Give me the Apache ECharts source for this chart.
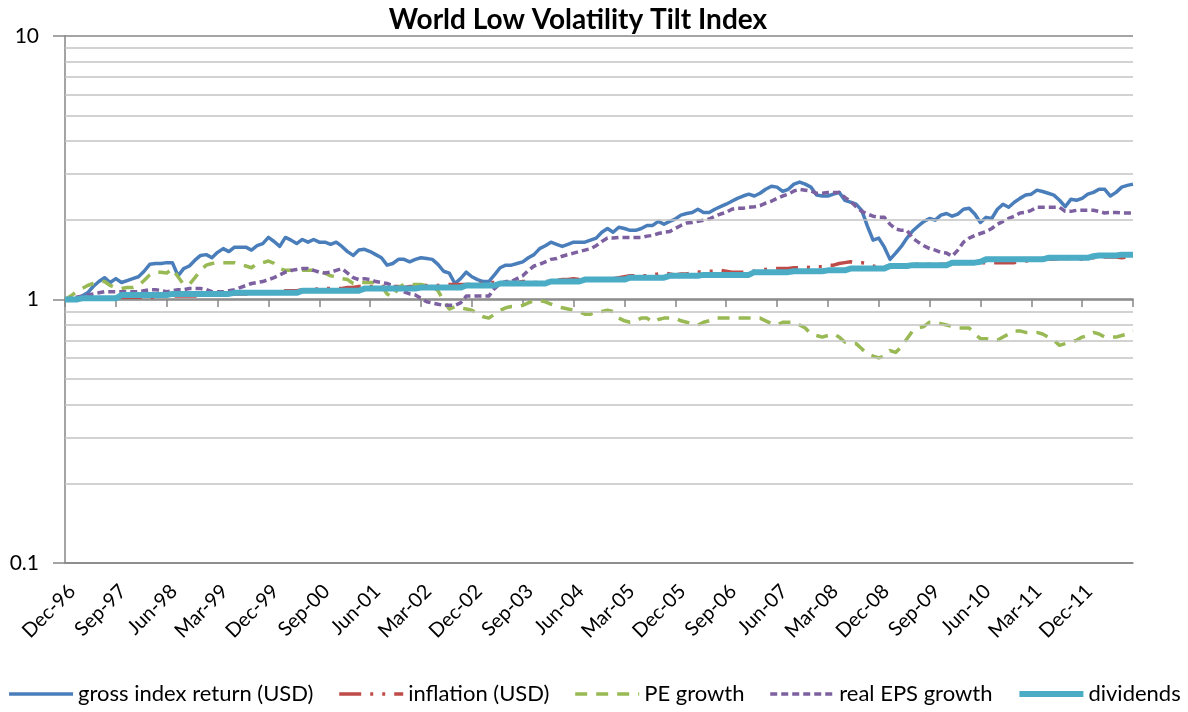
<!DOCTYPE html>
<html>
<head>
<meta charset="utf-8">
<script src="https://cdn.jsdelivr.net/npm/echarts/dist/echarts.min.js"></script>
<style>
html,body{margin:0;padding:0;background:#fff;}
#chart{width:1188px;height:712px;}
</style>
</head>
<body>
<div id="chart"></div>
<script>
const categories = [
'Dec-96',
'Jan-97','Feb-97','Mar-97','Apr-97','May-97','Jun-97','Jul-97','Aug-97','Sep-97','Oct-97','Nov-97','Dec-97',
'Jan-98','Feb-98','Mar-98','Apr-98','May-98','Jun-98','Jul-98','Aug-98','Sep-98','Oct-98','Nov-98','Dec-98',
'Jan-99','Feb-99','Mar-99','Apr-99','May-99','Jun-99','Jul-99','Aug-99','Sep-99','Oct-99','Nov-99','Dec-99',
'Jan-00','Feb-00','Mar-00','Apr-00','May-00','Jun-00','Jul-00','Aug-00','Sep-00','Oct-00','Nov-00','Dec-00',
'Jan-01','Feb-01','Mar-01','Apr-01','May-01','Jun-01','Jul-01','Aug-01','Sep-01','Oct-01','Nov-01','Dec-01',
'Jan-02','Feb-02','Mar-02','Apr-02','May-02','Jun-02','Jul-02','Aug-02','Sep-02','Oct-02','Nov-02','Dec-02',
'Jan-03','Feb-03','Mar-03','Apr-03','May-03','Jun-03','Jul-03','Aug-03','Sep-03','Oct-03','Nov-03','Dec-03',
'Jan-04','Feb-04','Mar-04','Apr-04','May-04','Jun-04','Jul-04','Aug-04','Sep-04','Oct-04','Nov-04','Dec-04',
'Jan-05','Feb-05','Mar-05','Apr-05','May-05','Jun-05','Jul-05','Aug-05','Sep-05','Oct-05','Nov-05','Dec-05',
'Jan-06','Feb-06','Mar-06','Apr-06','May-06','Jun-06','Jul-06','Aug-06','Sep-06','Oct-06','Nov-06','Dec-06',
'Jan-07','Feb-07','Mar-07','Apr-07','May-07','Jun-07','Jul-07','Aug-07','Sep-07','Oct-07','Nov-07','Dec-07',
'Jan-08','Feb-08','Mar-08','Apr-08','May-08','Jun-08','Jul-08','Aug-08','Sep-08','Oct-08','Nov-08','Dec-08',
'Jan-09','Feb-09','Mar-09','Apr-09','May-09','Jun-09','Jul-09','Aug-09','Sep-09','Oct-09','Nov-09','Dec-09',
'Jan-10','Feb-10','Mar-10','Apr-10','May-10','Jun-10','Jul-10','Aug-10','Sep-10','Oct-10','Nov-10','Dec-10',
'Jan-11','Feb-11','Mar-11','Apr-11','May-11','Jun-11','Jul-11','Aug-11','Sep-11','Oct-11','Nov-11','Dec-11',
'Jan-12','Feb-12','Mar-12','Apr-12','May-12','Jun-12','Jul-12','Aug-12','Sep-12'
];

const seriesNames = ['gross index return (USD)','inflation (USD)','PE growth','real EPS growth','dividends'];

const grossReturn = [
1.00,1.00,1.01,1.03,1.06,1.12,1.17,1.21,1.16,1.20,
1.16,1.18,1.20,1.22,1.28,1.36,1.37,1.37,1.38,1.38,
1.23,1.31,1.34,1.41,1.47,1.48,1.44,1.51,1.56,1.52,
1.58,1.58,1.58,1.54,1.60,1.63,1.72,1.66,1.59,1.72,
1.68,1.63,1.69,1.65,1.69,1.65,1.65,1.62,1.65,1.59,
1.52,1.47,1.54,1.55,1.52,1.48,1.44,1.35,1.37,1.42,
1.42,1.39,1.42,1.44,1.43,1.42,1.36,1.28,1.26,1.15,
1.20,1.27,1.22,1.19,1.17,1.17,1.24,1.32,1.35,1.35,
1.37,1.39,1.44,1.48,1.56,1.60,1.65,1.62,1.59,1.62,
1.65,1.65,1.65,1.68,1.71,1.80,1.86,1.80,1.88,1.86,
1.83,1.83,1.86,1.91,1.91,1.98,1.93,1.98,2.02,2.09,
2.12,2.14,2.20,2.14,2.14,2.20,2.25,2.30,2.36,2.42,
2.47,2.51,2.47,2.53,2.62,2.69,2.67,2.57,2.62,2.74,
2.79,2.74,2.67,2.49,2.47,2.47,2.51,2.55,2.38,2.34,
2.30,2.18,1.90,1.68,1.71,1.58,1.42,1.50,1.59,1.71,
1.82,1.90,1.98,2.03,2.00,2.09,2.12,2.07,2.11,2.20,
2.22,2.11,1.96,2.05,2.03,2.20,2.30,2.24,2.34,2.42,
2.49,2.51,2.60,2.57,2.53,2.49,2.38,2.25,2.40,2.38,
2.42,2.51,2.55,2.62,2.62,2.47,2.55,2.67,2.71,2.74
];

const inflation = [
1.00,
1.00,1.01,1.01,1.01,1.01,1.01,1.01,1.01,1.02,1.02,1.02,1.02,
1.02,1.02,1.02,1.02,1.03,1.03,1.03,1.03,1.03,1.03,1.03,1.03,
1.04,1.04,1.04,1.05,1.05,1.05,1.05,1.05,1.06,1.06,1.06,1.06,
1.06,1.07,1.08,1.08,1.08,1.09,1.09,1.09,1.10,1.10,1.10,1.10,
1.10,1.11,1.11,1.12,1.12,1.12,1.12,1.12,1.12,1.12,1.12,1.11,
1.12,1.12,1.13,1.13,1.13,1.13,1.14,1.14,1.14,1.14,1.14,1.14,
1.15,1.15,1.16,1.16,1.16,1.16,1.16,1.16,1.17,1.17,1.16,1.16,
1.17,1.17,1.18,1.19,1.19,1.20,1.19,1.19,1.20,1.20,1.20,1.20,
1.20,1.21,1.22,1.23,1.23,1.23,1.23,1.24,1.25,1.26,1.25,1.24,
1.25,1.25,1.26,1.27,1.28,1.28,1.28,1.29,1.28,1.27,1.27,1.27,
1.28,1.28,1.30,1.30,1.31,1.31,1.31,1.31,1.32,1.32,1.33,1.32,
1.33,1.33,1.35,1.35,1.37,1.38,1.39,1.38,1.38,1.37,1.34,1.33,
1.33,1.34,1.34,1.34,1.35,1.36,1.36,1.36,1.36,1.36,1.36,1.36,
1.37,1.37,1.37,1.38,1.38,1.38,1.38,1.38,1.38,1.38,1.38,1.38,
1.39,1.40,1.41,1.42,1.43,1.42,1.42,1.43,1.43,1.43,1.43,1.42,
1.43,1.44,1.45,1.45,1.45,1.45,1.44,1.45,1.46
];

const peGrowth = [
1.00,1.03,1.07,1.10,1.13,1.15,1.17,1.17,1.13,1.11,
1.10,1.11,1.11,1.13,1.18,1.24,1.27,1.27,1.26,1.31,
1.22,1.14,1.14,1.21,1.29,1.35,1.37,1.38,1.38,1.38,
1.38,1.36,1.34,1.32,1.37,1.38,1.40,1.37,1.31,1.29,
1.29,1.28,1.29,1.29,1.29,1.28,1.26,1.23,1.22,1.20,
1.19,1.15,1.16,1.16,1.16,1.16,1.13,1.05,1.02,1.11,
1.14,1.14,1.14,1.14,1.13,1.12,1.08,0.99,0.92,0.94,
0.93,0.92,0.91,0.88,0.86,0.85,0.88,0.91,0.93,0.94,
0.94,0.95,0.97,0.99,0.99,0.98,0.96,0.94,0.93,0.92,
0.91,0.90,0.88,0.88,0.90,0.90,0.91,0.90,0.85,0.83,
0.82,0.83,0.85,0.85,0.82,0.84,0.85,0.85,0.85,0.83,
0.82,0.81,0.80,0.82,0.83,0.85,0.85,0.85,0.85,0.85,
0.85,0.85,0.85,0.85,0.83,0.81,0.80,0.82,0.82,0.82,
0.80,0.78,0.74,0.73,0.72,0.73,0.74,0.72,0.69,0.68,
0.68,0.65,0.62,0.61,0.60,0.61,0.64,0.63,0.66,0.71,
0.76,0.78,0.79,0.82,0.82,0.81,0.80,0.79,0.78,0.78,
0.78,0.74,0.71,0.71,0.70,0.70,0.72,0.74,0.76,0.76,
0.75,0.75,0.75,0.74,0.72,0.70,0.67,0.68,0.69,0.70,
0.72,0.73,0.75,0.74,0.72,0.72,0.72,0.73,0.74,0.76
];

const realEpsGrowth = [
1.00,1.01,1.02,1.03,1.04,1.05,1.06,1.07,1.07,1.07,
1.07,1.07,1.07,1.07,1.08,1.09,1.09,1.08,1.07,1.08,
1.09,1.09,1.10,1.10,1.10,1.09,1.07,1.07,1.07,1.08,
1.09,1.11,1.13,1.15,1.16,1.17,1.19,1.21,1.24,1.27,
1.29,1.30,1.31,1.31,1.29,1.27,1.26,1.27,1.29,1.31,
1.26,1.21,1.19,1.20,1.19,1.17,1.16,1.15,1.13,1.10,
1.07,1.05,1.04,1.01,0.98,0.97,0.96,0.95,0.95,0.95,
0.97,1.03,1.03,1.03,1.03,1.03,1.10,1.15,1.17,1.17,
1.20,1.23,1.29,1.34,1.36,1.39,1.42,1.43,1.46,1.48,
1.50,1.52,1.54,1.56,1.60,1.66,1.71,1.71,1.72,1.72,
1.72,1.72,1.72,1.74,1.75,1.78,1.80,1.81,1.86,1.91,
1.95,1.96,1.98,2.00,2.02,2.07,2.11,2.14,2.20,2.22,
2.22,2.24,2.25,2.27,2.32,2.36,2.42,2.47,2.51,2.58,
2.62,2.60,2.58,2.53,2.53,2.55,2.55,2.55,2.44,2.36,
2.25,2.16,2.11,2.07,2.05,2.05,1.93,1.85,1.83,1.83,
1.71,1.65,1.60,1.56,1.54,1.51,1.50,1.46,1.54,1.65,
1.71,1.75,1.78,1.81,1.86,1.93,1.98,2.03,2.07,2.13,
2.14,2.18,2.24,2.24,2.24,2.24,2.24,2.16,2.16,2.18,
2.18,2.18,2.18,2.16,2.13,2.14,2.14,2.13,2.13,2.13
];

const dividends = [
1.00,1.00,1.00,1.01,1.01,1.01,1.01,1.01,1.01,1.01,
1.04,1.04,1.04,1.04,1.04,1.04,1.04,1.04,1.04,1.05,
1.05,1.05,1.05,1.05,1.05,1.05,1.05,1.05,1.05,1.05,
1.06,1.06,1.06,1.06,1.06,1.06,1.06,1.06,1.06,1.06,
1.06,1.06,1.08,1.08,1.08,1.08,1.08,1.08,1.08,1.08,
1.08,1.08,1.08,1.10,1.10,1.10,1.10,1.10,1.10,1.10,
1.10,1.10,1.10,1.11,1.11,1.11,1.11,1.11,1.11,1.11,
1.11,1.13,1.13,1.13,1.13,1.13,1.13,1.15,1.15,1.15,
1.15,1.15,1.15,1.15,1.15,1.15,1.17,1.17,1.17,1.17,
1.17,1.17,1.19,1.19,1.19,1.19,1.19,1.19,1.19,1.19,
1.21,1.21,1.21,1.21,1.21,1.21,1.21,1.23,1.23,1.23,
1.23,1.23,1.23,1.24,1.24,1.24,1.24,1.24,1.24,1.24,
1.24,1.24,1.27,1.27,1.27,1.27,1.27,1.27,1.27,1.28,
1.28,1.28,1.28,1.28,1.28,1.29,1.29,1.29,1.29,1.31,
1.31,1.31,1.31,1.31,1.31,1.31,1.34,1.34,1.34,1.34,
1.35,1.35,1.35,1.35,1.35,1.35,1.35,1.38,1.38,1.38,
1.38,1.38,1.39,1.42,1.42,1.42,1.42,1.42,1.42,1.42,
1.42,1.42,1.42,1.42,1.44,1.44,1.44,1.44,1.44,1.44,
1.44,1.44,1.46,1.47,1.47,1.47,1.47,1.48,1.48,1.48
];

const yTickValues = [0.1, 1, 10];
const minorGridValues = [0.2,0.3,0.4,0.5,0.6,0.7,0.8,0.9,2,3,4,5,6,7,8,9];

const colors = ['#4A7EBB','#BE4B48','#98B954','#7D60A0','#4BACC6'];
const FONT = 'Lato, "Liberation Sans", sans-serif';

const chart = echarts.init(document.getElementById('chart'), null, {renderer:'canvas'});

function lineSeries(name, data, color, width, type) {
  return {
    name: name,
    type: 'line',
    data: data,
    showSymbol: false,
    symbol: 'none',
    smooth: false,
    z: 3,
    lineStyle: { color: color, width: width, type: type, cap: 'butt', join: 'round' },
    itemStyle: { color: color },
    emphasis: { disabled: true },
    animation: false
  };
}

const option = {
  animation: false,
  backgroundColor: '#ffffff',
  title: {
    text: 'World Low Volatility Tilt Index',
    left: 573,
    top: 1,
    textAlign: 'center',
    textStyle: { fontFamily: FONT, fontWeight: 'bold', fontSize: 28, color: '#000' }
  },
  legend: {
    data: seriesNames,
    bottom: 2,
    left: 'center',
    itemWidth: 64,
    itemHeight: 14,
    itemGap: 24,
    itemStyle: { opacity: 0 },
    lineStyle: { width: 'inherit' },
    textStyle: { fontFamily: FONT, fontSize: 22, color: '#000' }
  },
  grid: { left: 65, right: 55, top: 36, bottom: 149, containLabel: false },
  xAxis: [
    {
      type: 'category',
      data: categories,
      boundaryGap: false,
      axisLine: { show: true, lineStyle: { color: '#868686', width: 1.5 } },
      axisTick: { show: false },
      axisLabel: { interval: 8, rotate: 45, fontFamily: FONT, fontSize: 20, color: '#000', margin: 18,
        verticalAlign: 'top', showMaxLabel: false },
      splitLine: { show: false }
    },
    {
      type: 'category',
      data: categories,
      boundaryGap: false,
      position: 'bottom',
      offset: -264,
      axisLine: { show: true, lineStyle: { color: '#868686', width: 1.5 } },
      axisTick: { show: true, interval: 8, length: 8, lineStyle: { color: '#868686', width: 1.5 } },
      axisLabel: { show: false },
      splitLine: { show: false }
    }
  ],
  yAxis: {
    type: 'log',
    logBase: 10,
    min: yTickValues[0],
    max: yTickValues[yTickValues.length - 1],
    axisLine: { show: true, lineStyle: { color: '#868686', width: 1.5 } },
    axisTick: { show: true, length: 12, lineStyle: { color: '#868686', width: 1.5 } },
    axisLabel: { fontFamily: FONT, fontSize: 21, color: '#000', margin: 26,
      formatter: function (v) { return String(+(+v).toPrecision(3)); } },
    splitLine: { show: true, lineStyle: { color: '#868686', width: 1.5 } }
  },
  series: [
    {
      name: 'minor-grid',
      type: 'line',
      data: [],
      z: 1,
      silent: true,
      animation: false,
      markLine: {
        silent: true,
        animation: false,
        symbol: ['none', 'none'],
        label: { show: false },
        emphasis: { disabled: true },
        lineStyle: { color: '#c3c3c3', width: 1.5, type: 'solid' },
        data: minorGridValues.map(function (v) { return { yAxis: v }; })
      }
    },
    lineSeries(seriesNames[0], grossReturn, colors[0], 3.5, 'solid'),
    lineSeries(seriesNames[1], inflation, colors[1], 3.5, [22, 9, 3, 9, 3, 9]),
    lineSeries(seriesNames[2], peGrowth, colors[2], 3.5, [12, 9]),
    lineSeries(seriesNames[3], realEpsGrowth, colors[3], 3.5, [7, 4]),
    lineSeries(seriesNames[4], dividends, colors[4], 6, 'solid')
  ]
};

chart.setOption(option);
</script>
</body>
</html>
